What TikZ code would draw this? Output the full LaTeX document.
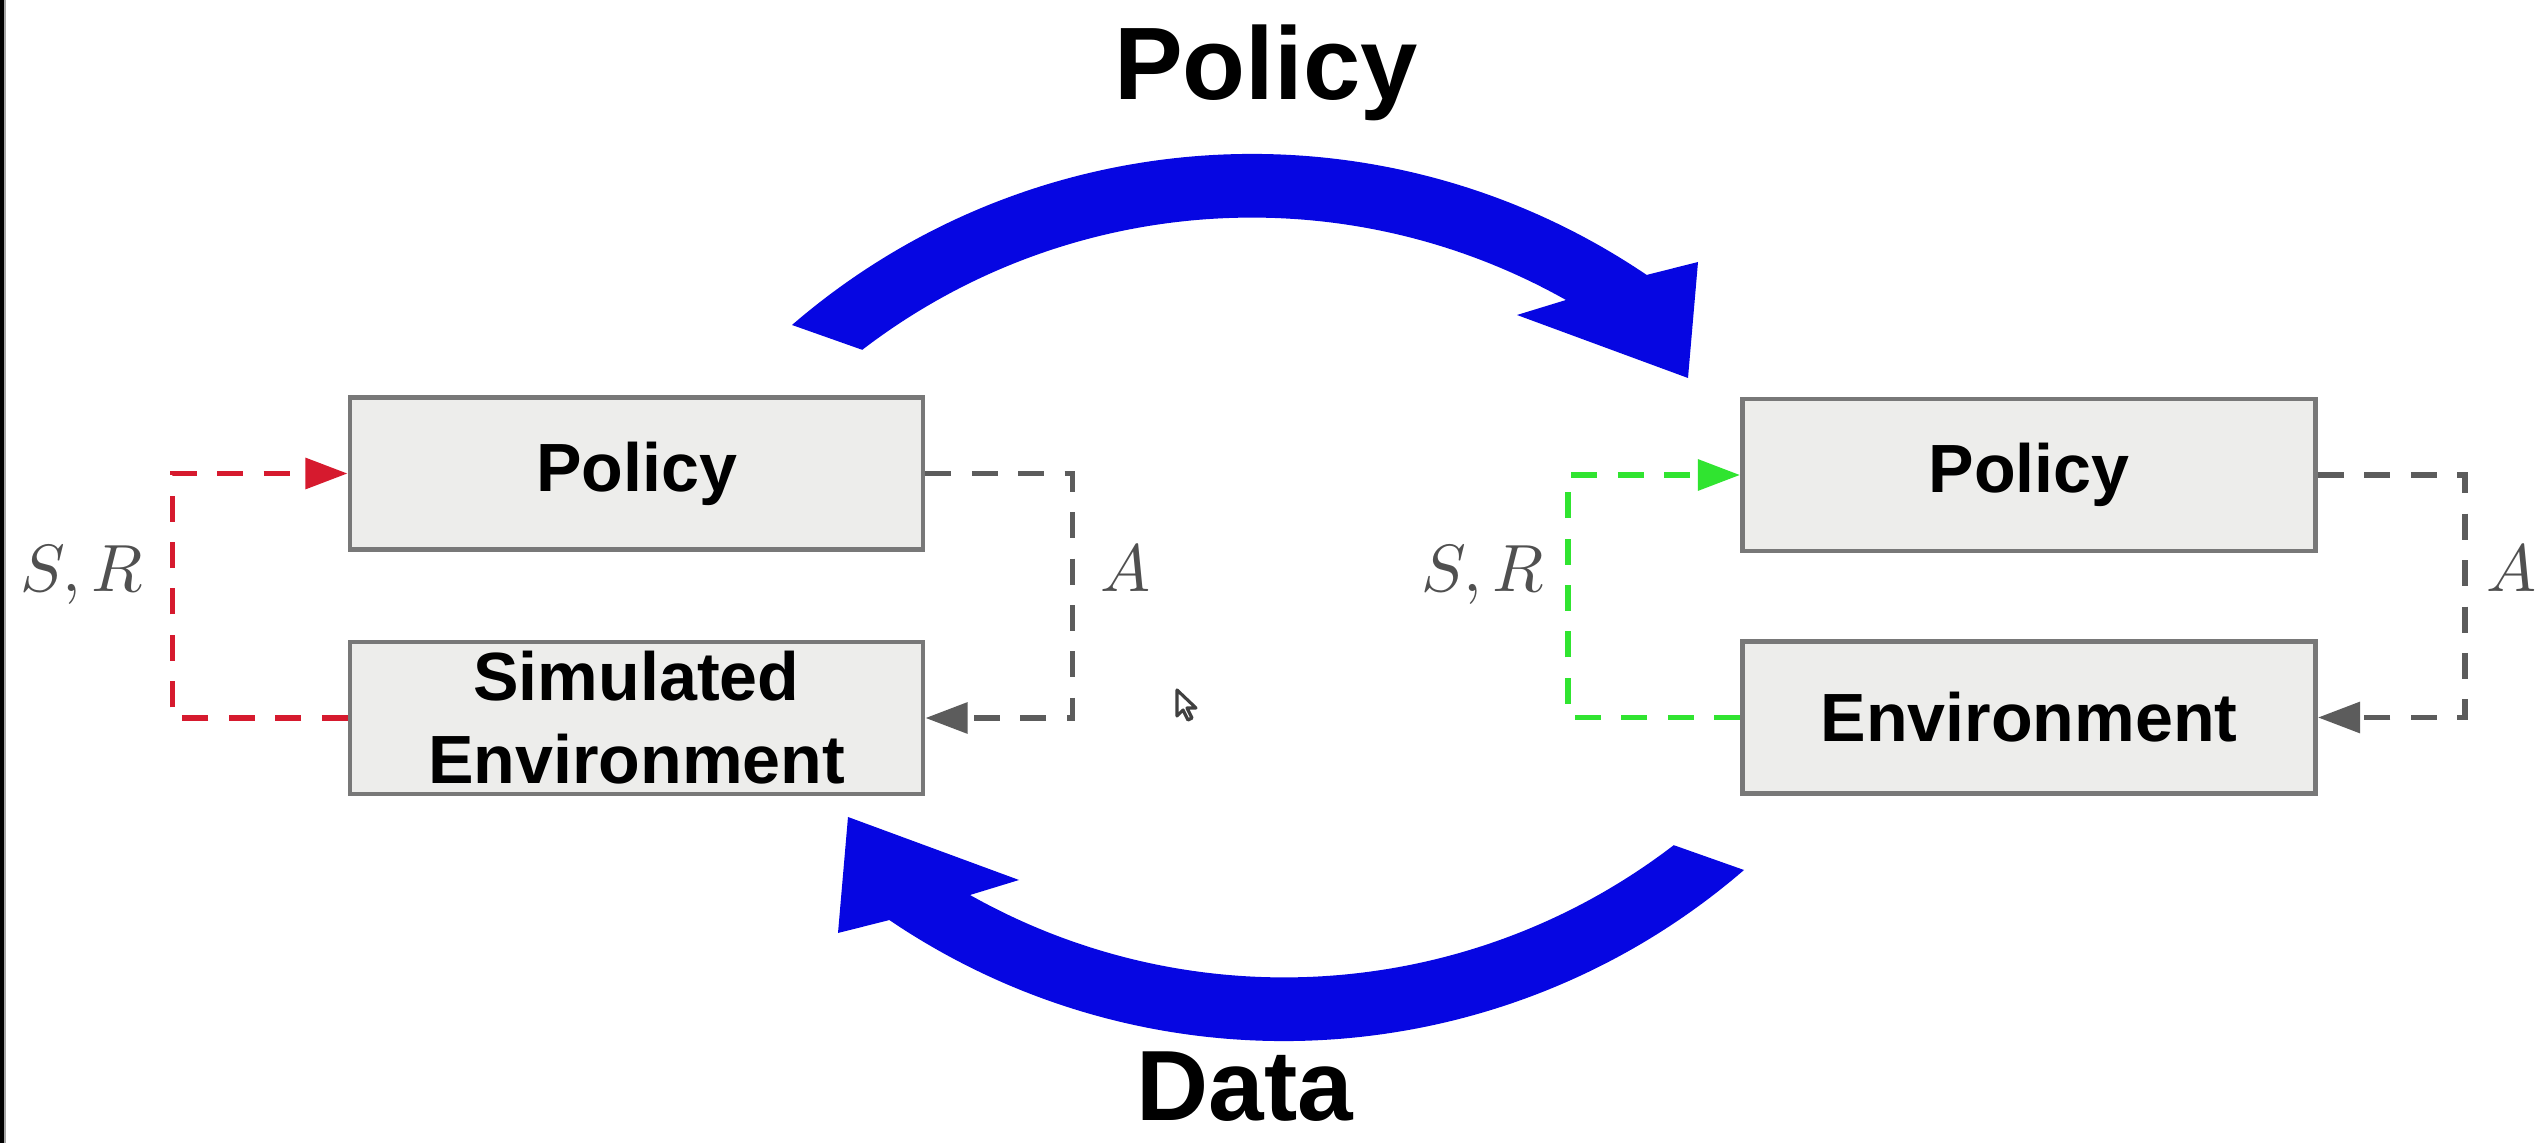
\documentclass[tikz,border=0pt]{standalone}
\usepackage{graphicx}
\usepackage{fontspec}
\newfontfamily\blockfont{Liberation Sans}
\usetikzlibrary{arrows.meta}

\definecolor{boxfill}{RGB}{237,237,235}
\definecolor{boxline}{RGB}{120,120,120}
\definecolor{flowgray}{RGB}{92,92,92}
\definecolor{flowred}{RGB}{214,26,46}
\definecolor{flowgreen}{RGB}{48,228,48}
\definecolor{loopblue}{RGB}{6,6,226}
\definecolor{labelgray}{RGB}{80,80,80}

\tikzset{
  block/.style={draw=boxline, fill=boxfill, line width=1.3pt,
    minimum width=5.73cm, minimum height=1.52cm, inner sep=0pt,
    align=center, font=\blockfont\bfseries\fontsize{19.4}{23.6}\selectfont},
  heading/.style={inner sep=0pt, font=\blockfont\bfseries\fontsize{29.3}{34}\selectfont},
  flow/.style={line width=1.6pt, dash pattern=on 7.4pt off 5.8pt,
    -{Triangle[length=12pt, width=8.6pt]}},
  siglabel/.style={inner sep=0pt, text=labelgray},
  loop/.style={fill=loopblue}
}

% math labels set at 10pt and enlarged
\newcommand{\siglbl}[1]{\scalebox{1.9}{$#1$}}

% one bent band with its head; drawn twice, the second turned by 180 degrees
\newcommand{\loopband}{%
  (792,325) arc[start angle=229.2, end angle=304.1, radius=704]
  -- (1698,262) -- (1688,378) -- (1517,315) -- (1566,300)
  arc[start angle=299.4, end angle=232.5, radius=640] -- cycle}

\begin{document}
\begin{tikzpicture}[x=0.01cm, y=-0.01cm]
  \useasboundingbox[fill=white] (0,0) rectangle (2538,1143);

  % dark strip down the left side
  \fill[black] (0,0) rectangle (4,1143);
  \draw[gray!70, line width=0.6pt] (5,0) -- (5,1143);

  % left loop: policy trained on the simulated environment
  \node[block] (lpol) at (636.5,473.5) {Policy};
  \node[block] (lenv) at (636.5,718) {Simulated\\Environment};

  % right loop: policy acting in the real environment
  \node[block] (rpol) at (2029,475) {Policy};
  \node[block] (renv) at (2029,717.5) {Environment};

  % state / reward and action flows
  \draw[flow, flowred]   (lenv.west) -- ++(-175,0) |- (lpol.west);
  \draw[flow, flowgray]  (lpol.east) -- ++(147,0)  |- (lenv.east);
  \draw[flow, flowgreen] (renv.west) -- ++(-172,0) |- (rpol.west);
  \draw[flow, flowgray]  (rpol.east) -- ++(147,0)  |- (renv.east);

  \node[siglabel, anchor=base] (lsr) at (82,592)   {\siglbl{S,R}};
  \node[siglabel, anchor=base] (la)  at (1126,592) {\siglbl{A}};
  \node[siglabel, anchor=base] (rsr) at (1483,592) {\siglbl{S,R}};
  \node[siglabel, anchor=base] (ra)  at (2512,592) {\siglbl{A}};

  % big exchange arrows between the two loops
  \fill[loop] \loopband;
  \begin{scope}[rotate around={180:(1268,597.5)}]
    \fill[loop] \loopband;
  \end{scope}

  \node[heading, anchor=base] (ptitle) at (1266,100)  {Policy};
  \node[heading, anchor=base, font=\blockfont\bfseries\fontsize{28.4}{33}\selectfont]
    (dtitle) at (1245,1120) {Data};

  % mouse pointer
  \begin{scope}[shift={(1177,690)}]
    \draw[fill=white, draw=black!75, line width=0.9pt, line join=round]
      (0,0) -- (0,26) -- (6,20) -- (11,30) -- (15,28) -- (10,18) -- (19,18) -- cycle;
  \end{scope}
\end{tikzpicture}
\end{document}
